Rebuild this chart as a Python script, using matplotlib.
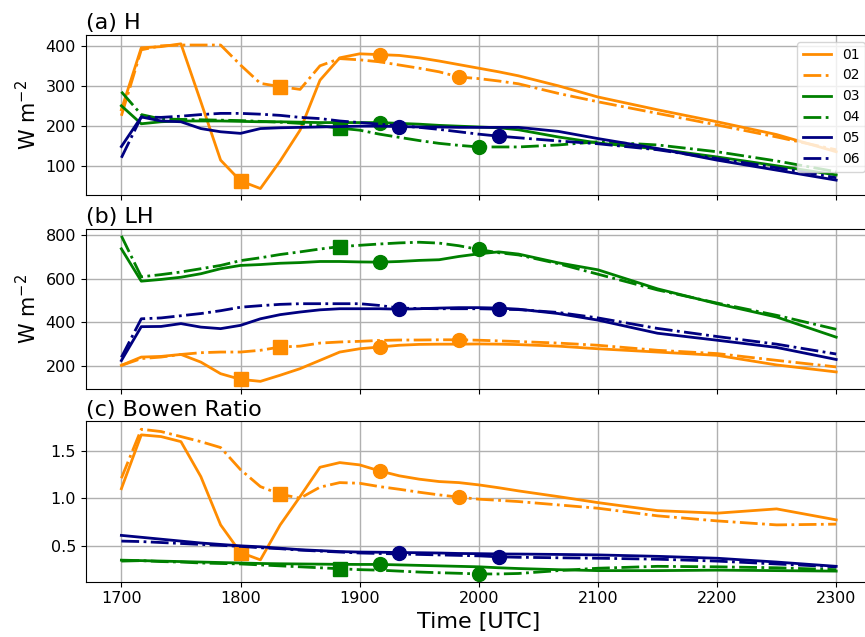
import matplotlib
matplotlib.use('Agg')
import matplotlib.pyplot as plt

# time axis (UTC, HHMM-style decimal hours*100)
times = [1700, 1716.7, 1733.3, 1750, 1766.7, 1783.3, 1800, 1816.7, 1833.3, 1850,
         1866.7, 1883.3, 1900, 1916.7, 1933.3, 1950, 1966.7, 1983.3, 2000, 2016.7,
         2033.3, 2066.7, 2100, 2150, 2200, 2250, 2300]

runs = ['01', '02', '03', '04', '05', '06']

# (a) sensible heat flux
H01 = [240, 395, 398, 405, 260, 114, 62, 43, 112, 189, 314, 370, 380, 378, 376, 370,
       362, 353, 344, 335, 325, 300, 272, 240, 210, 178, 135]
H02 = [225, 390, 400, 402, 402, 402, 352, 306, 298, 291, 350, 368, 365, 360, 352, 344,
       335, 322, 318, 312, 305, 281, 260, 231, 202, 172, 140]
H03 = [250, 205, 210, 212, 212, 212, 211, 210, 210, 209, 208, 208, 208, 208, 206, 204,
       201, 199, 197, 195, 190, 172, 157, 142, 122, 100, 77]
H04 = [285, 228, 217, 216, 215, 214, 213, 211, 209, 206, 200, 194, 189, 179, 171, 163,
       156, 151, 147, 147, 147, 152, 160, 152, 135, 112, 85]
H05 = [148, 222, 212, 210, 193, 185, 181, 193, 195, 196, 197, 198, 199, 199, 198, 197,
       197, 196, 196, 196, 196, 186, 168, 143, 114, 89, 64]
H06 = [120, 222, 221, 224, 228, 231, 231, 229, 226, 221, 218, 212, 208, 204, 200, 196,
       191, 185, 179, 174, 170, 162, 155, 140, 118, 95, 70]

# (b) latent heat flux
LH01 = [203, 241, 244, 253, 218, 165, 139, 130, 158, 188, 226, 264, 279, 287, 295, 299,
        300, 300, 301, 300, 298, 291, 279, 264, 249, 205, 173]
LH02 = [203, 234, 241, 253, 261, 264, 264, 272, 287, 291, 305, 310, 313, 317, 319, 319,
        320, 320, 318, 315, 312, 305, 295, 272, 257, 226, 196]
LH03 = [736, 588, 596, 606, 622, 645, 660, 664, 670, 673, 678, 678, 676, 675, 678, 683,
        686, 701, 713, 722, 712, 672, 640, 553, 485, 424, 332]
LH04 = [795, 608, 618, 630, 645, 660, 682, 695, 710, 722, 735, 746, 752, 758, 763, 766,
        762, 750, 733, 718, 708, 668, 620, 548, 488, 432, 368]
LH05 = [225, 380, 381, 394, 378, 371, 386, 416, 435, 447, 457, 462, 462, 462, 460, 462,
        465, 467, 467, 465, 460, 440, 410, 350, 318, 285, 230]
LH06 = [240, 416, 420, 430, 440, 453, 469, 476, 482, 485, 485, 485, 485, 477, 465, 463,
        462, 462, 462, 460, 458, 445, 420, 372, 335, 300, 255]

# (c) Bowen ratio
BR01 = [1.10, 1.665, 1.647, 1.594, 1.227, 0.72, 0.43, 0.353, 0.72, 1.017, 1.325, 1.374,
        1.35, 1.287, 1.235, 1.20, 1.175, 1.164, 1.14, 1.11, 1.077, 1.017, 0.954, 0.87,
        0.843, 0.888, 0.773]
BR02 = [1.21, 1.724, 1.70, 1.647, 1.594, 1.532, 1.30, 1.122, 1.042, 1.0, 1.116, 1.164,
        1.157, 1.122, 1.094, 1.063, 1.035, 1.011, 0.99, 0.978, 0.965, 0.93, 0.895, 0.815,
        0.762, 0.72, 0.728]
BR03 = [0.35, 0.345, 0.34, 0.335, 0.33, 0.325, 0.32, 0.315, 0.312, 0.31, 0.308, 0.306,
        0.305, 0.305, 0.30, 0.295, 0.29, 0.285, 0.28, 0.27, 0.262, 0.25, 0.24, 0.24,
        0.245, 0.24, 0.235]
BR04 = [0.34, 0.345, 0.335, 0.33, 0.32, 0.315, 0.31, 0.30, 0.29, 0.28, 0.27, 0.26,
        0.25, 0.245, 0.235, 0.225, 0.218, 0.212, 0.205, 0.205, 0.21, 0.24, 0.265, 0.285,
        0.28, 0.27, 0.25]
BR05 = [0.61, 0.59, 0.57, 0.55, 0.53, 0.515, 0.50, 0.49, 0.475, 0.46, 0.45, 0.44,
        0.435, 0.433, 0.43, 0.428, 0.425, 0.42, 0.418, 0.415, 0.414, 0.41, 0.405, 0.39,
        0.37, 0.33, 0.285]
BR06 = [0.55, 0.545, 0.535, 0.525, 0.515, 0.505, 0.495, 0.48, 0.47, 0.455, 0.445, 0.435,
        0.425, 0.42, 0.415, 0.41, 0.405, 0.40, 0.395, 0.385, 0.38, 0.375, 0.37, 0.36,
        0.34, 0.31, 0.28]

# index of the marked times in each run: (square, circle)
square_idx = {'01': 6, '02': 8, '03': None, '04': 11, '05': None, '06': None}
circle_idx = {'01': 13, '02': 17, '03': 13, '04': 18, '05': 14, '06': 19}

colors = {'01': 'darkorange', '02': 'darkorange', '03': 'green', '04': 'green',
          '05': 'navy', '06': 'navy'}
styles = {'01': '-', '02': '-.', '03': '-', '04': '-.', '05': '-', '06': '-.'}

panels = [
    ('(a) H', dict(zip(runs, [H01, H02, H03, H04, H05, H06])), [100, 200, 300, 400], True),
    ('(b) LH', dict(zip(runs, [LH01, LH02, LH03, LH04, LH05, LH06])), [200, 400, 600, 800], True),
    ('(c) Bowen Ratio', dict(zip(runs, [BR01, BR02, BR03, BR04, BR05, BR06])), [0.5, 1.0, 1.5], False),
]

fig = plt.figure(figsize=(8.65, 6.37), dpi=100)
boxes = [[0.099, 0.694, 0.909, 0.251],
         [0.099, 0.390, 0.909, 0.251],
         [0.099, 0.087, 0.909, 0.252]]

axes = []
for k, (title, data, yticks, has_ylabel) in enumerate(panels):
    ax = fig.add_axes(boxes[k])
    axes.append(ax)
    for r in runs:
        y = data[r]
        ax.plot(times, y, color=colors[r], linestyle=styles[r], linewidth=2.0, label=r)
        if square_idx[r] is not None:
            i = square_idx[r]
            ax.plot(times[i], y[i], 's', color=colors[r], markersize=10)
        i = circle_idx[r]
        ax.plot(times[i], y[i], 'o', color=colors[r], markersize=10)

    ax.set_xlim(1670, 2330)
    ax.set_xticks([1700, 1800, 1900, 2000, 2100, 2200, 2300])
    ax.set_yticks(yticks)
    ax.grid(True, color='#b0b0b0', linewidth=1)
    ax.tick_params(labelsize=11.5)
    ax.set_title(title, loc='left', fontsize=16, pad=4)
    if has_ylabel:
        ax.set_ylabel('W m$^{-2}$', fontsize=15)
    if k < 2:
        ax.tick_params(labelbottom=False)
    if k == 0:
        ax.legend(loc='upper right', fontsize=10)

axes[0].set_ylim(27, 427)
axes[1].set_ylim(97, 828)
axes[2].set_ylim(0.125, 1.81)
axes[2].set_yticklabels(['0.5', '1.0', '1.5'])
axes[2].set_xlabel('Time [UTC]', fontsize=16)

plt.savefig('out.png', dpi=100)
plt.close()
